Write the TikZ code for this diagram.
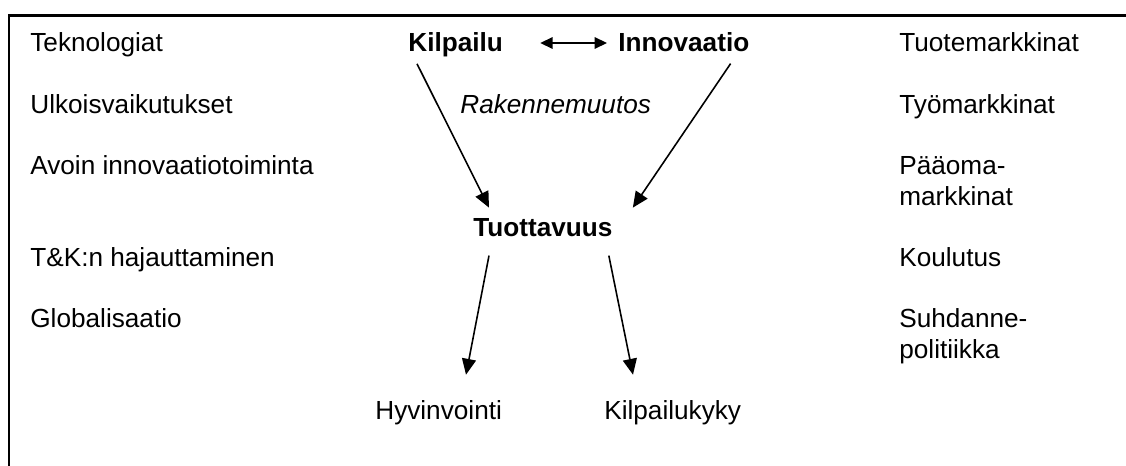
\documentclass[tikz,border=0pt]{standalone}
\usepackage{fontspec}
\setmainfont{Liberation Sans}
\usepackage{tikz}
\usetikzlibrary{arrows.meta,positioning}
\newcommand{\dgfont}{\fontsize{14.9}{17.35}\selectfont}
\tikzstyle{item} = [inner sep=0pt, anchor=base west, font=\dgfont, align=left]
\tikzstyle{key} = [item, font=\dgfont\bfseries]
\tikzstyle{arrow} = [line width=0.9pt, -{Triangle[length=9pt,width=8pt]}]
\tikzstyle{link} = [line width=0.9pt, {Triangle[length=7pt,width=6.5pt]}-{Triangle[length=7pt,width=6.5pt]}]

\begin{document}
\begin{tikzpicture}[x=0.02cm,y=-0.02cm]
\useasboundingbox (0,0) rectangle (1126,466);
% frame (top and left only)
\draw[line width=1.4pt] (9,466) -- (9,15.5) -- (1126,15.5);

% left column
\node[item] (tek) at (30,52) {Teknologiat};
\node[item] (ulk) at (30,113) {Ulkoisvaikutukset};
\node[item] (avo) at (30,174) {Avoin innovaatiotoiminta};
\node[item] (tk) at (30,266) {T\&K:n hajauttaminen};
\node[item] (glo) at (30,327) {Globalisaatio};

% right column (two-line items: base = last line)
\node[item] (tuo) at (899,52) {Tuotemarkkinat};
\node[item] (tyo) at (899,113) {Työmarkkinat};
\node[item] (paa) at (899,205) {Pääoma-\\markkinat};
\node[item] (kou) at (899,266) {Koulutus};
\node[item] (suh) at (899,358) {Suhdanne-\\politiikka};

% middle
\node[key] (kil) at (408,52) {Kilpailu};
\node[key] (inn) at (618,52) {Innovaatio};
\node[item, font=\dgfont\itshape] (rak) at (460,113) {Rakennemuutos};
\node[key] (tuot) at (473,236) {Tuottavuus};
\node[item] (hyv) at (375,419) {Hyvinvointi};
\node[item] (kyk) at (604,419) {Kilpailukyky};

\draw[link] ([shift={(37,-9)}]kil.base east) -- ([shift={(-11,-9)}]inn.base west);
\draw[arrow] ([shift={(9,6)}]kil.south west) -- ([shift={(16,-10)}]tuot.north west);
\draw[arrow] ([shift={(-19,11)}]inn.south east) -- ([shift={(20,-10)}]tuot.north east);
\draw[arrow] ([shift={(16,19)}]tuot.south west) -- ([shift={(91,-25)}]hyv.north west);
\draw[arrow] ([shift={(-4,19)}]tuot.south east) -- ([shift={(29,-25)}]kyk.north west);
\end{tikzpicture}
\end{document}
